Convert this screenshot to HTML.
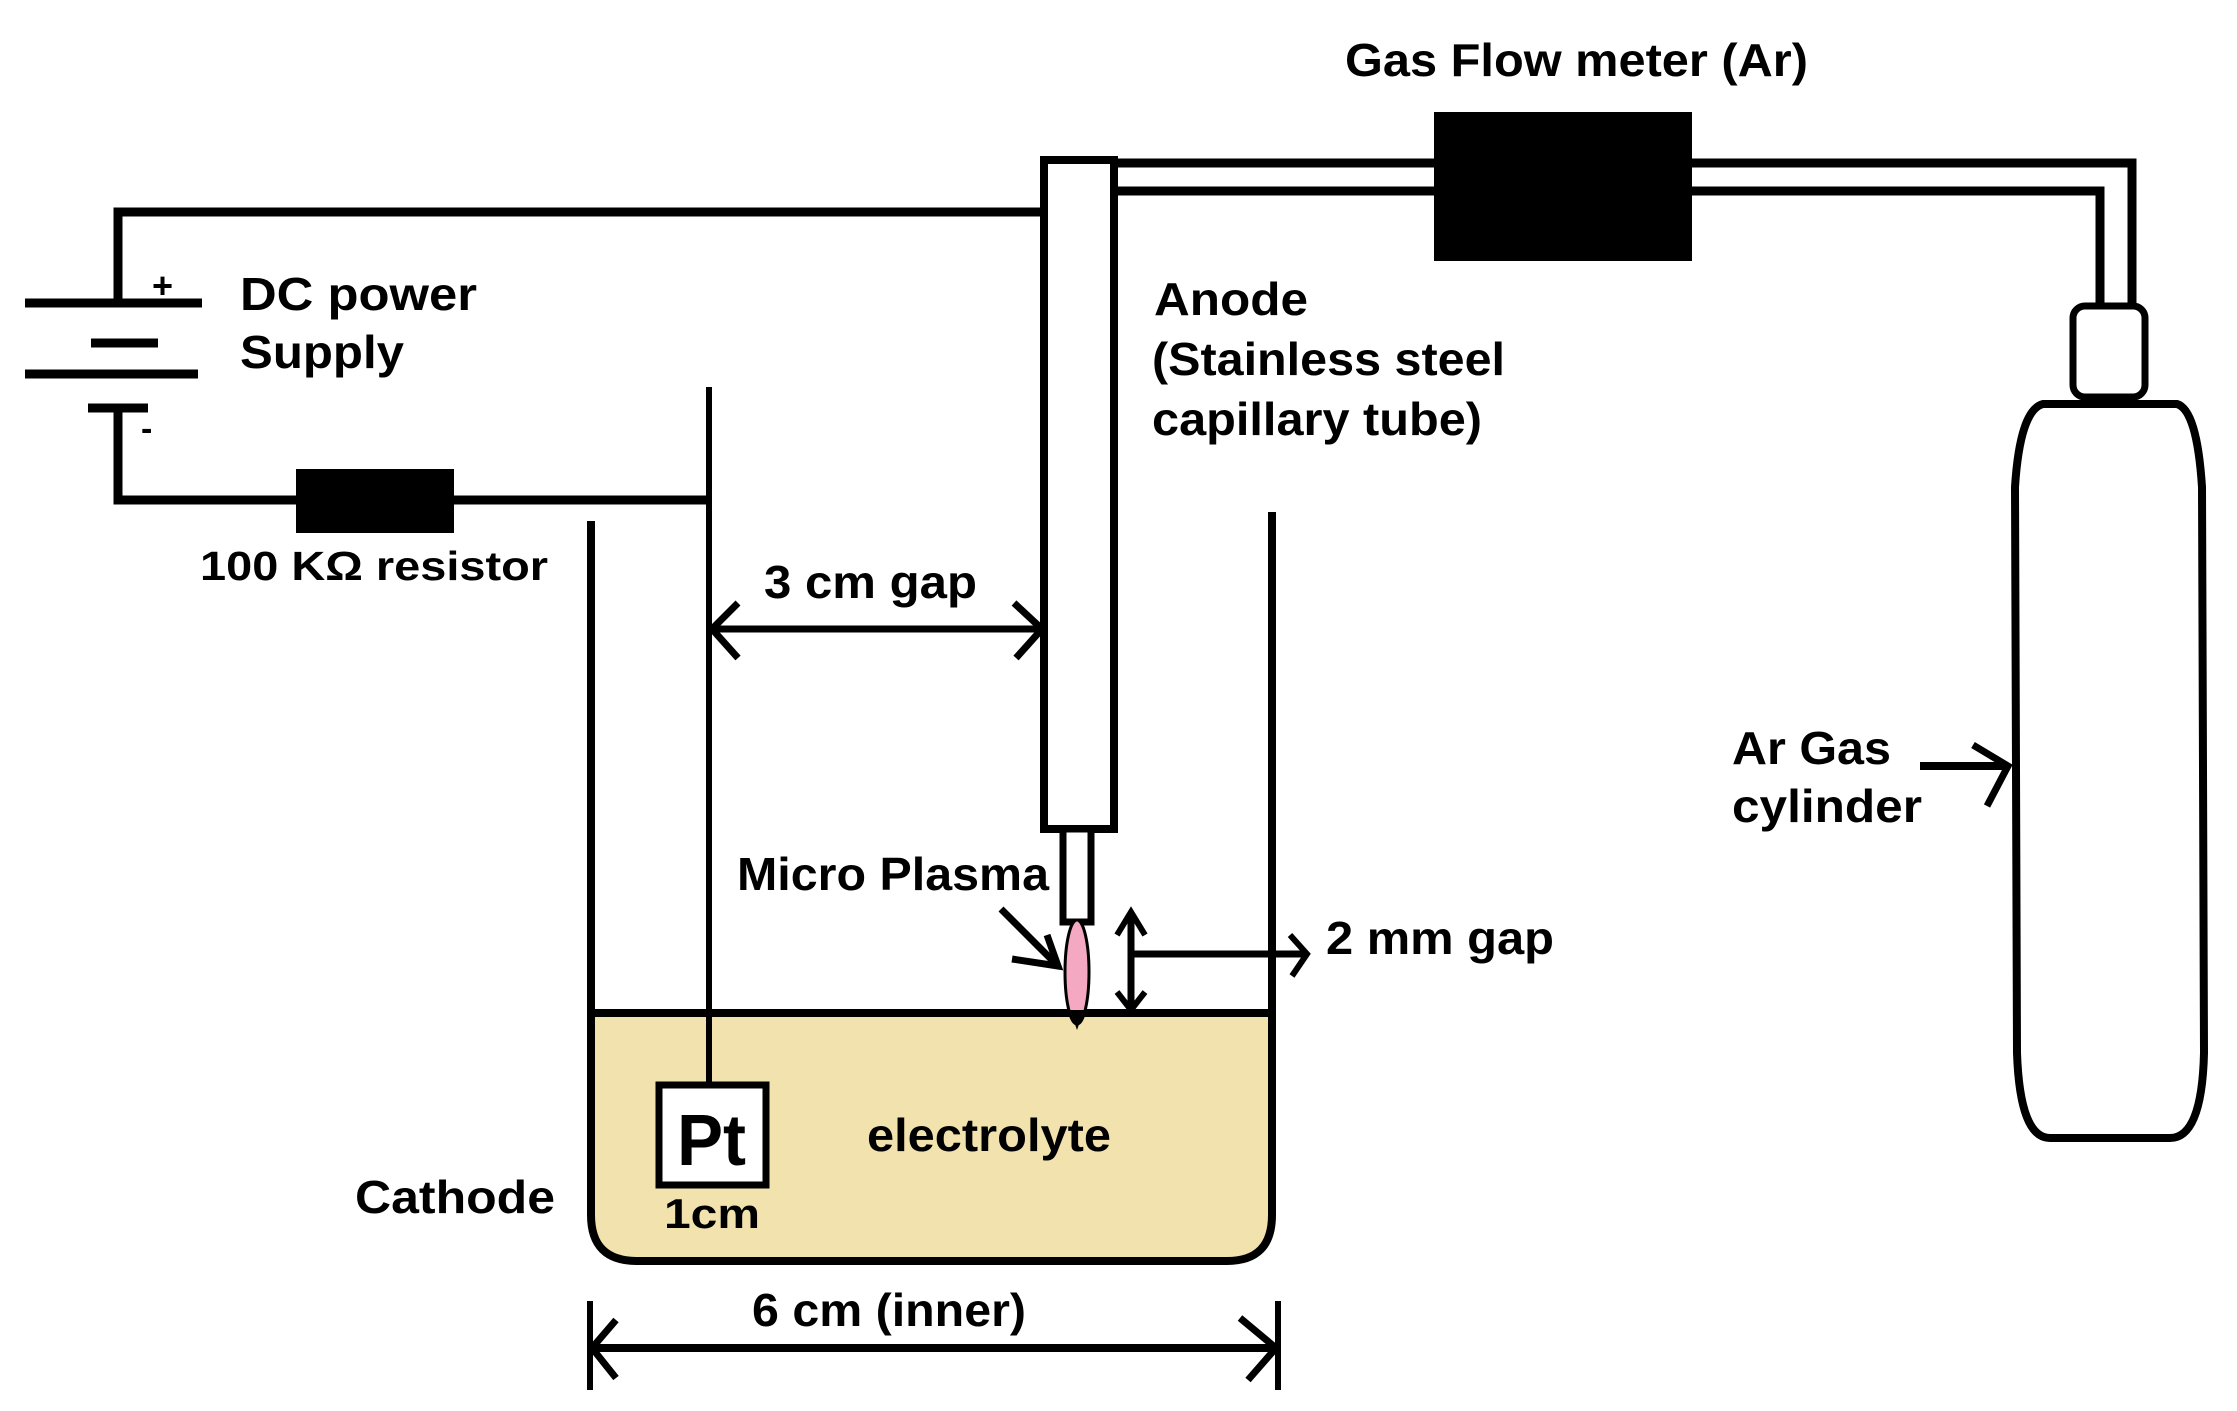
<!DOCTYPE html>
<html><head><meta charset="utf-8"><style>
html,body{margin:0;padding:0;background:#fff}
svg{display:block}
text{font-family:"Liberation Sans",Arial,sans-serif;font-weight:bold;fill:#000}
</style></head><body>
<svg width="2237" height="1411" viewBox="0 0 2237 1411" xmlns="http://www.w3.org/2000/svg">
<path d="M588,1013 L1273,1013 L1273,1215 Q1273,1261 1227,1261 L634,1261 Q588,1261 588,1215 Z" fill="#f2e2ad" stroke="none"/>
<g stroke="#000" fill="none" stroke-linecap="butt">
<!-- top wire -->
<polyline points="118,303 118,212 1042,212" stroke-width="9"/>
<!-- battery -->
<line x1="25" y1="303" x2="202" y2="303" stroke-width="9"/>
<line x1="91" y1="343" x2="158" y2="343" stroke-width="9"/>
<line x1="25" y1="374" x2="198" y2="374" stroke-width="9"/>
<line x1="88" y1="408" x2="148" y2="408" stroke-width="9"/>
<polyline points="118,408 118,500 709,500" stroke-width="9"/>
<!-- cathode rod -->
<line x1="709" y1="387" x2="709" y2="1083" stroke-width="6"/>
<!-- beaker -->
<path d="M591,521 L591,1215 Q591,1261 637,1261 L1227,1261 Q1272,1261 1272,1215 L1272,512" stroke-width="8"/>
<line x1="588" y1="1013" x2="1275" y2="1013" stroke-width="8"/>
<!-- Pt box -->
<rect x="659" y="1085" width="107" height="100" fill="#fff" stroke-width="7"/>
<!-- 3 cm gap arrow -->
<line x1="712" y1="629" x2="1042" y2="629" stroke-width="7"/>
<polyline points="738,603 712,629 738,658" stroke-width="7"/>
<polyline points="1014,603 1042,629 1016,658" stroke-width="7"/>
<!-- anode tube -->
<rect x="1044" y="160" width="70" height="669" fill="#fff" stroke-width="8"/>
<rect x="1063" y="829" width="28" height="93" fill="#fff" stroke-width="7"/>
<!-- plasma -->
<ellipse cx="1077" cy="972" rx="12" ry="52" fill="#f4a8c2" stroke="#000" stroke-width="3"/>
<path d="M1070,1010 L1077,1030 L1084,1010 Z" fill="#000" stroke="none"/>
<!-- micro plasma arrow -->
<line x1="1001" y1="909" x2="1057" y2="965" stroke-width="7"/>
<polyline points="1047,935 1058,966 1012,959" stroke-width="7"/>
<!-- 2mm gap arrows -->
<line x1="1131" y1="912" x2="1131" y2="1010" stroke-width="7"/>
<polyline points="1117,935 1131,912 1145,935" stroke-width="6"/>
<polyline points="1117,992 1131,1010 1145,992" stroke-width="6"/>
<line x1="1131" y1="954" x2="1305" y2="954" stroke-width="7"/>
<polyline points="1290,935 1307,954 1292,976" stroke-width="6"/>
<!-- gas pipe -->
<polyline points="1114,163 2132,163 2132,304" stroke-width="9"/>
<polyline points="1114,191 2100,191 2100,304" stroke-width="9"/>
<rect x="1434" y="112" width="258" height="149" fill="#000" stroke="none"/>
<!-- valve -->
<rect x="2073" y="306" width="72" height="91" rx="12" fill="#fff" stroke-width="7"/>
<!-- cylinder -->
<path d="M2043,404 L2177,404 Q2197,410 2202,487 L2204,1053 Q2202,1138 2170,1138 L2050,1138 Q2020,1138 2017,1053 L2015,487 Q2020,410 2043,404 Z" fill="#fff" stroke-width="8"/>
<!-- cylinder arrow -->
<line x1="1920" y1="766" x2="2008" y2="766" stroke-width="8"/>
<polyline points="1973,745 2008,766 1987,806" stroke-width="7"/>
<!-- 6cm arrow -->
<line x1="590" y1="1301" x2="590" y2="1390" stroke-width="6"/>
<line x1="1278" y1="1301" x2="1278" y2="1390" stroke-width="6"/>
<line x1="592" y1="1348" x2="1276" y2="1348" stroke-width="8"/>
<polyline points="616,1320 592,1348 616,1378" stroke-width="7"/>
<polyline points="1240,1318 1276,1348 1248,1380" stroke-width="7"/>
</g>
<rect x="296" y="469" width="158" height="64" fill="#000"/>
<text x="152" y="298" font-size="36">+</text>
<text x="141" y="440" font-size="34">-</text>
<text x="240" y="310" font-size="46" textLength="237" lengthAdjust="spacingAndGlyphs">DC power</text>
<text x="240" y="368" font-size="46" textLength="164" lengthAdjust="spacingAndGlyphs">Supply</text>
<text x="200" y="580" font-size="41" textLength="348" lengthAdjust="spacingAndGlyphs">100 KΩ resistor</text>
<text x="764" y="598" font-size="46" textLength="213" lengthAdjust="spacingAndGlyphs">3 cm gap</text>
<text x="1345" y="76" font-size="46" textLength="463" lengthAdjust="spacingAndGlyphs">Gas Flow meter (Ar)</text>
<text x="1154" y="315" font-size="46" textLength="154" lengthAdjust="spacingAndGlyphs">Anode</text>
<text x="1152" y="375" font-size="46" textLength="353" lengthAdjust="spacingAndGlyphs">(Stainless steel</text>
<text x="1152" y="435" font-size="46" textLength="330" lengthAdjust="spacingAndGlyphs">capillary tube)</text>
<text x="737" y="890" font-size="46" textLength="312" lengthAdjust="spacingAndGlyphs">Micro Plasma</text>
<text x="1326" y="954" font-size="46" textLength="228" lengthAdjust="spacingAndGlyphs">2 mm gap</text>
<text x="1732" y="764" font-size="46" textLength="159" lengthAdjust="spacingAndGlyphs">Ar Gas</text>
<text x="1732" y="822" font-size="46" textLength="190" lengthAdjust="spacingAndGlyphs">cylinder</text>
<text x="677" y="1165" font-size="72" textLength="69" lengthAdjust="spacingAndGlyphs">Pt</text>
<text x="867" y="1151" font-size="46" textLength="244" lengthAdjust="spacingAndGlyphs">electrolyte</text>
<text x="664" y="1228" font-size="42" textLength="96" lengthAdjust="spacingAndGlyphs">1cm</text>
<text x="355" y="1213" font-size="46" textLength="200" lengthAdjust="spacingAndGlyphs">Cathode</text>
<text x="752" y="1326" font-size="46" textLength="274" lengthAdjust="spacingAndGlyphs">6 cm (inner)</text>
</svg>
</body></html>
